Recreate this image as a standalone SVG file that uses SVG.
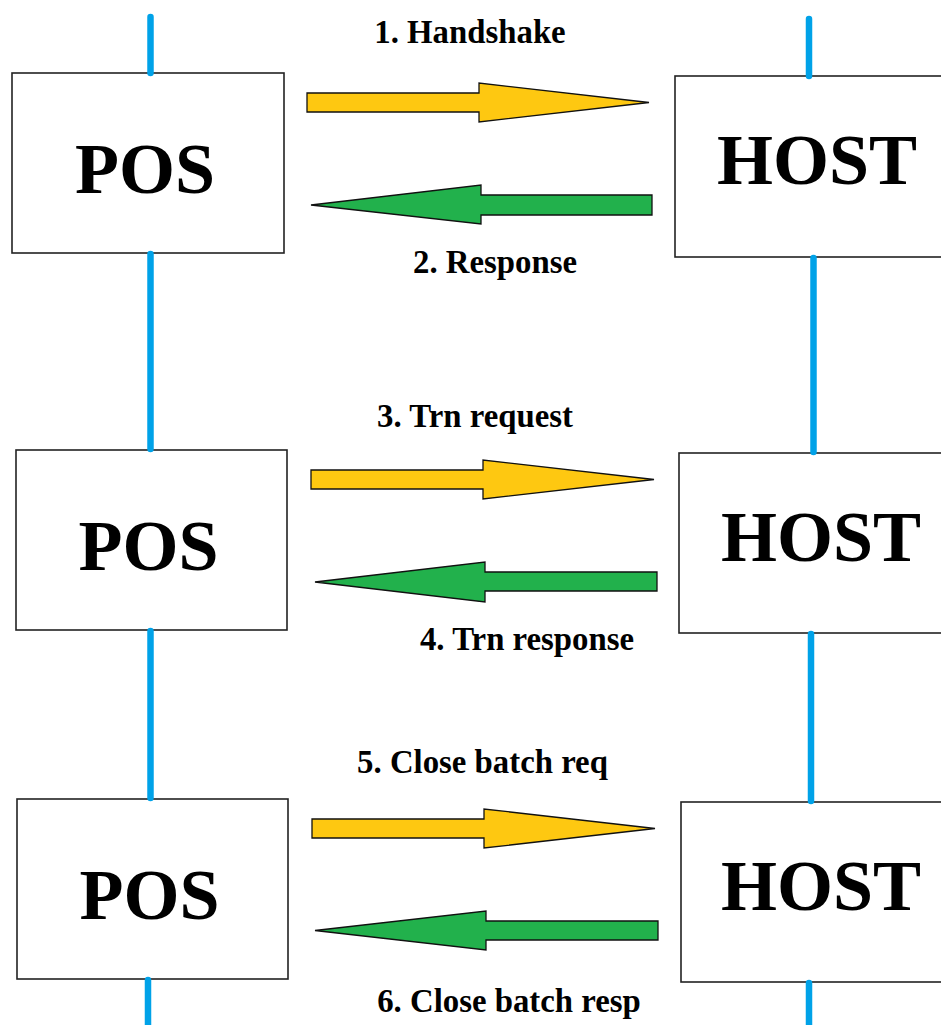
<svg xmlns="http://www.w3.org/2000/svg" width="941" height="1025" viewBox="0 0 941 1025">
  <defs>
    <style>
      .box { fill: #ffffff; stroke: #222222; stroke-width: 1.6; }
      .name { font-family: "Liberation Serif", "Times New Roman", serif; font-weight: bold; font-size: 72px; fill: #000000; text-anchor: middle; }
      .label { font-family: "Liberation Serif", "Times New Roman", serif; font-weight: bold; font-size: 32.8px; fill: #000000; text-anchor: middle; }
      .wire { stroke: #00a2e8; stroke-width: 6.5; stroke-linecap: round; fill: none; }
      .req { fill: #fec811; stroke: #111111; stroke-width: 1.3; stroke-linejoin: miter; }
      .resp { fill: #22b14c; stroke: #111111; stroke-width: 1.3; stroke-linejoin: miter; }
    </style>
  </defs>
  <rect width="941" height="1025" fill="#ffffff"/>

  <!-- terminal and host boxes -->
  <g id="pos1"><rect class="box" x="12" y="73" width="272" height="180"/><text class="name" x="145" y="193">POS</text></g>
  <g id="pos2"><rect class="box" x="16" y="450" width="271" height="180"/><text class="name" x="148.5" y="570">POS</text></g>
  <g id="pos3"><rect class="box" x="17" y="799" width="271" height="180"/><text class="name" x="149.5" y="919">POS</text></g>
  <g id="host1"><rect class="box" x="675" y="76" width="280" height="181"/><text class="name" x="817" y="184">HOST</text></g>
  <g id="host2"><rect class="box" x="679" y="453" width="280" height="180"/><text class="name" x="821" y="561">HOST</text></g>
  <g id="host3"><rect class="box" x="681" y="802" width="280" height="180"/><text class="name" x="821" y="910">HOST</text></g>

  <!-- connectors: lifelines and message arrows -->
  <g id="connectors">
    <line class="wire" x1="150.5" y1="17" x2="150.5" y2="73"/>
    <line class="wire" x1="150.5" y1="254" x2="150.5" y2="449"/>
    <line class="wire" x1="150.5" y1="631" x2="150.5" y2="798"/>
    <line class="wire" x1="148" y1="980" x2="148" y2="1030"/>
    <line class="wire" x1="809" y1="19" x2="809" y2="76"/>
    <line class="wire" x1="813.5" y1="258" x2="813.5" y2="452"/>
    <line class="wire" x1="811" y1="634" x2="811" y2="801"/>
    <line class="wire" x1="809" y1="983" x2="809" y2="1030"/>

    <polygon class="req" points="307,93 479,93 479,83 649,102.5 479,122 479,112 307,112"/>
    <polygon class="resp" points="652,195 481,195 481,185 311,205 481,224 481,215 652,215"/>
    <polygon class="req" points="311,470 483,470 483,460 654,479.5 483,499 483,489 311,489"/>
    <polygon class="resp" points="657,572 485,572 485,562 315,582 485,602 485,591 657,591"/>
    <polygon class="req" points="312,819 484,819 484,809 655,828.5 484,848 484,838 312,838"/>
    <polygon class="resp" points="658,921 486,921 486,911 315,930.5 486,950 486,940 658,940"/>
  </g>

  <!-- message labels -->
  <g id="labels">
    <text class="label" x="470" y="43">1. Handshake</text>
    <text class="label" x="495" y="273">2. Response</text>
    <text class="label" x="475" y="427">3. Trn request</text>
    <text class="label" x="527" y="650">4. Trn response</text>
    <text class="label" x="482.5" y="773">5. Close batch req</text>
    <text class="label" x="509" y="1012">6. Close batch resp</text>
  </g>
</svg>
